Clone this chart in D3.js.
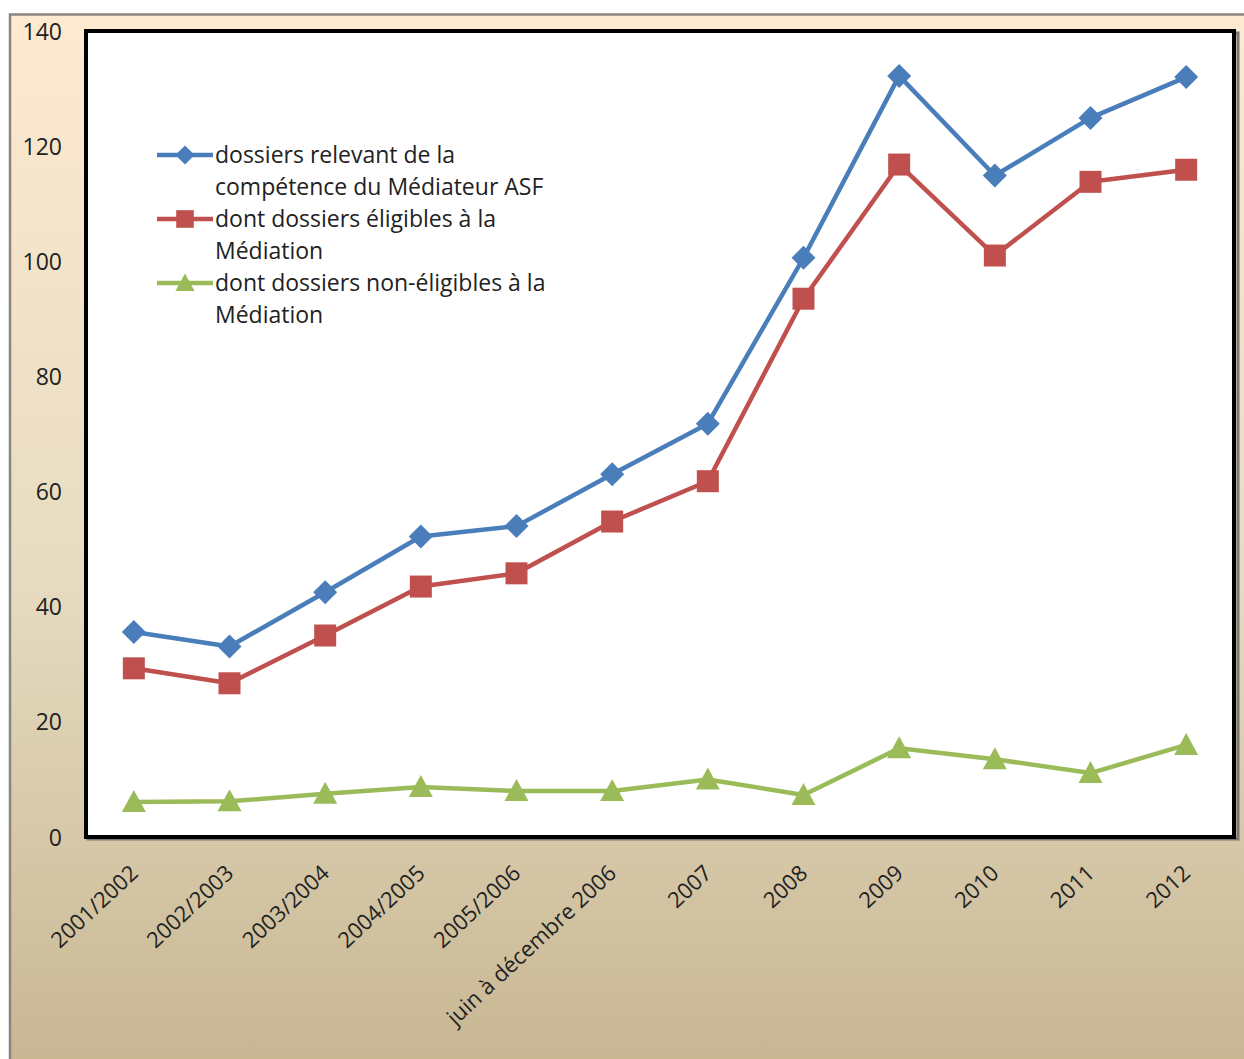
<!DOCTYPE html>
<html><head><meta charset="utf-8">
<script src="https://cdn.jsdelivr.net/npm/d3@7"></script>
<style>
  html,body{margin:0;padding:0;background:#fff;}
  svg{display:block;font-family:"Open Sans","Noto Sans",sans-serif;}
</style></head>
<body>
<svg id="chart" width="1244" height="1059"></svg>
<script>
// ---- data ----
const categories = ['2001/2002','2002/2003','2003/2004','2004/2005','2005/2006','juin à décembre 2006','2007','2008','2009','2010','2011','2012'];
const competence = [35.6, 33.1, 42.5, 52.2, 54, 63, 71.8, 100.6, 132.2, 114.9, 124.9, 132];
const eligibles  = [29.3, 26.7, 35, 43.5, 45.8, 54.8, 61.8, 93.5, 116.8, 101, 113.8, 115.9];
const nonEligibles = [6.1, 6.2, 7.5, 8.7, 8, 8, 10, 7.3, 15.4, 13.5, 11.1, 16];
const yTicks = [0, 20, 40, 60, 80, 100, 120, 140];
const seriesNames = [
  ['dossiers relevant de la','compétence du Médiateur ASF'],
  ['dont dossiers éligibles à la','Médiation'],
  ['dont dossiers non-éligibles à la','Médiation']
];

const svg = d3.select('#chart');
const W = 1244, H = 1059;
const plot = {l:86, r:1234, t:31, b:837};

// background panel w/ gradient
const defs = svg.append('defs');
const gr = defs.append('linearGradient').attr('id','bg').attr('x1',0).attr('y1',0).attr('x2',0).attr('y2',1);
gr.append('stop').attr('offset','0%').attr('stop-color','#fdead0');
gr.append('stop').attr('offset','55%').attr('stop-color','#e6dbc0');
gr.append('stop').attr('offset','100%').attr('stop-color','#c8b793');
svg.append('rect').attr('x',10).attr('y',14).attr('width',W-10).attr('height',H-14).attr('fill','url(#bg)');
svg.append('path').attr('d',`M10,${H} V14.5 H${W}`).attr('fill','none').attr('stroke','#8a8580').attr('stroke-width',2.5);

// plot area
svg.append('rect').attr('x',plot.l+2).attr('y',plot.t+2).attr('width',plot.r-plot.l+2).attr('height',plot.b-plot.t)
  .attr('fill','none').attr('stroke','#777').attr('stroke-width',3);
svg.append('rect').attr('x',plot.l).attr('y',plot.t).attr('width',plot.r-plot.l).attr('height',plot.b-plot.t)
  .attr('fill','#fff').attr('stroke','#000').attr('stroke-width',4);

const x = d3.scalePoint().domain(categories).range([plot.l, plot.r]).padding(0.5);
const y = d3.scaleLinear().domain([0,140]).range([plot.b, plot.t]);

// y axis labels
const yAxis = svg.append('g').attr('transform',`translate(${plot.l-24},0)`)
  .call(d3.axisLeft(y).tickValues(yTicks).tickSize(0).tickPadding(0));
yAxis.select('.domain').remove();
yAxis.selectAll('text').attr('font-size',23).attr('fill','#222').attr('font-family','"Open Sans",sans-serif')
  .attr('dy','0.35em');

// x axis labels
const xAxis = svg.append('g').attr('transform',`translate(0,${plot.b})`)
  .call(d3.axisBottom(x).tickSize(0).tickPadding(0));
xAxis.select('.domain').remove();
xAxis.selectAll('text').attr('font-size',22).attr('fill','#222').attr('font-family','"Open Sans",sans-serif')
  .attr('text-anchor','end').attr('dy',0).attr('y',0)
  .attr('transform','translate(5,38) rotate(-43)');

// series
const series = [
  {vals:competence, color:'#4a7ebb', sym:'diamond'},
  {vals:eligibles, color:'#c0504d', sym:'square'},
  {vals:nonEligibles, color:'#9bbb59', sym:'triangle'}
];
function marker(g, s){
  if(s.sym==='diamond') return g.append('path').attr('d','M0,-12 L12,0 L0,12 L-12,0Z').attr('fill',s.color);
  if(s.sym==='square') return g.append('rect').attr('x',-11).attr('y',-11).attr('width',22).attr('height',22).attr('fill',s.color);
  return g.append('path').attr('d','M0,-12 L12,10 L-12,10Z').attr('fill',s.color);
}
const line = d3.line().x((d,i)=>x(categories[i])).y(d=>y(d));
series.forEach(s=>{
  svg.append('path').datum(s.vals).attr('d',line).attr('fill','none')
    .attr('stroke',s.color).attr('stroke-width',4.5).attr('stroke-linejoin','round');
  s.vals.forEach((v,i)=>{
    const g = svg.append('g').attr('transform',`translate(${x(categories[i])},${y(v)})`);
    marker(g,s);
  });
});

// legend
const lg = svg.append('g').attr('transform','translate(157,155)');
series.forEach((s,i)=>{
  const g = lg.append('g').attr('transform',`translate(0,${i*64})`);
  g.append('line').attr('x1',0).attr('x2',56).attr('stroke',s.color).attr('stroke-width',4.5);
  const m = g.append('g').attr('transform','translate(28,0) scale(0.8)');
  marker(m,s);
  seriesNames[i].forEach((t,j)=>{
    g.append('text').attr('x',58).attr('y',j*32+8).attr('font-size',23).attr('fill','#222').text(t);
  });
});
</script>
</body></html>
